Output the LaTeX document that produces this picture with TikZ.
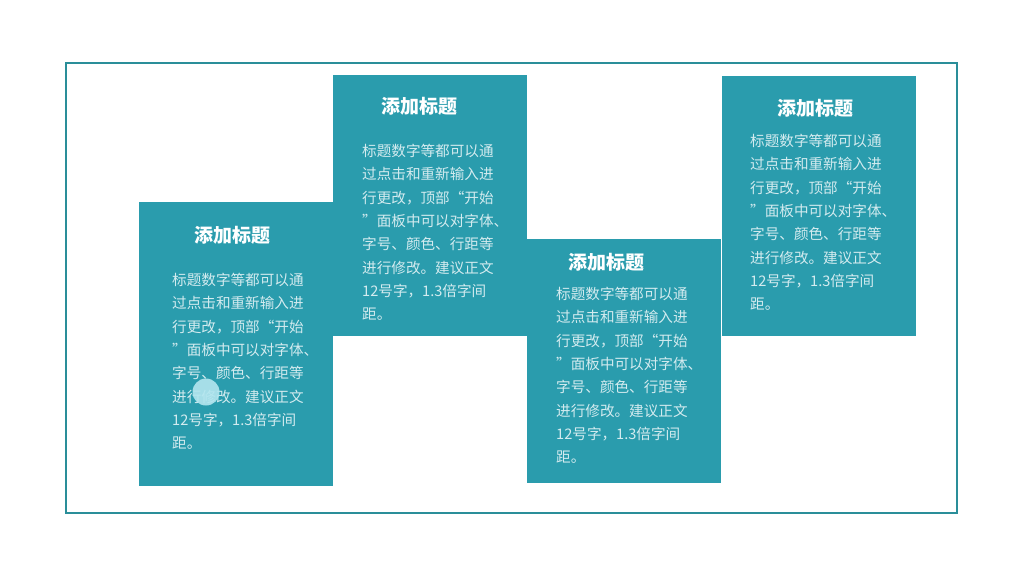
\documentclass[tikz,border=0pt]{standalone}
\usepackage{fontspec}
\usepackage{xcolor}
\newfontfamily\cjk{Noto Sans CJK SC}
\usetikzlibrary{positioning}
\definecolor{cardteal}{HTML}{2A9CAD}
\definecolor{frameteal}{HTML}{2A8E99}
\definecolor{bodytext}{HTML}{D3EBEF}
\definecolor{dotcyan}{HTML}{B4E6EF}

\begin{document}
\begin{tikzpicture}[x=1pt, y=-1pt,
	card/.style={rectangle, fill=cardteal, inner sep=0pt, minimum width=194pt, anchor=north west},
	heading/.style={font=\cjk\bfseries\fontsize{19}{19}\selectfont, text=white},
	body/.style={font=\cjk\fontsize{14.6}{23.3}\selectfont, text=bodytext, align=left, inner sep=0pt}]
	\useasboundingbox (0,0) rectangle (1023,576);
	\draw[frameteal, line width=2pt] (66,63) rectangle (957,513);

	% four cards
	\node[card, minimum height=284pt] (card1) at (139,202) {};
	\node[card, minimum height=261pt] (card2) at (333,75) {};
	\node[card, minimum height=244pt] (card3) at (527,239) {};
	\node[card, minimum height=260pt] (card4) at (722,76) {};

	\node[heading] (title1) at (232,235) {添加标题};
	\node[heading] (title2) at (419,106) {添加标题};
	\node[heading] (title3) at (606,262) {添加标题};
	\node[heading] (title4) at (815,108) {添加标题};

	\node[body, below right=71pt and 33pt of card1.north west] (text1) {标题数字等都可以通\\过点击和重新输入进\\行更改，顶部“开始\\”面板中可以对字体、\\字号、颜色、行距等\\进行修改。建议正文\\12号字，1.3倍字间\\距。};
	\node[body, below right=69pt and 29pt of card2.north west] (text2) {标题数字等都可以通\\过点击和重新输入进\\行更改，顶部“开始\\”面板中可以对字体、\\字号、颜色、行距等\\进行修改。建议正文\\12号字，1.3倍字间\\距。};
	\node[body, below right=48pt and 29pt of card3.north west] (text3) {标题数字等都可以通\\过点击和重新输入进\\行更改，顶部“开始\\”面板中可以对字体、\\字号、颜色、行距等\\进行修改。建议正文\\12号字，1.3倍字间\\距。};
	\node[body, below right=58pt and 28pt of card4.north west] (text4) {标题数字等都可以通\\过点击和重新输入进\\行更改，顶部“开始\\”面板中可以对字体、\\字号、颜色、行距等\\进行修改。建议正文\\12号字，1.3倍字间\\距。};

	\node[circle, fill=dotcyan, fill opacity=0.9, minimum size=27pt, inner sep=0pt] (dot) at (206,392) {};
\end{tikzpicture}
\end{document}
